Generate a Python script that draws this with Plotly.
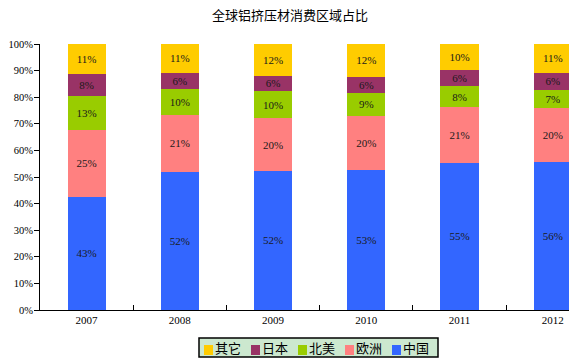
import plotly.graph_objects as go

years = ["2007", "2008", "2009", "2010", "2011", "2012"]
china = [42.6, 52.0, 52.4, 52.8, 55.4, 55.8]
europe = [25.1, 21.3, 19.6, 20.2, 20.9, 20.3]
north_america = [12.8, 9.8, 10.3, 8.7, 7.9, 6.7]
japan = [8.3, 6.1, 5.8, 6.0, 6.1, 6.4]
other = [11.2, 10.8, 11.9, 12.3, 9.7, 10.8]

series = [
    ("中国", china, "#3366FF"),
    ("欧洲", europe, "#FF8080"),
    ("北美", north_america, "#99CC00"),
    ("日本", japan, "#993366"),
    ("其它", other, "#FFCC00"),
]

FONT = "Liberation Serif, Noto Sans CJK SC, serif"
OFF = 8  # page body margin offset
W, H = 577 - OFF, 360 - OFF
ML, MR, MT = 40 - OFF, 0, 44 - OFF
MB = H - (310 - OFF)
PW, PH = W - ML - MR, H - MT - MB


def px_x(x):
    return (x - OFF - ML) / PW


def px_y(y):
    return (H - MB - (y - OFF)) / PH


fig = go.Figure()
for name, vals, color in series:
    fig.add_trace(go.Bar(
        x=years, y=vals, name=name,
        marker=dict(color=color, line=dict(width=0)),
        width=0.41,
        texttemplate="%{y:.0f}%",
        textposition="inside",
        insidetextanchor="middle",
        textfont=dict(family=FONT, size=11, color="#1a1a1a"),
        constraintext="none",
        hoverinfo="skip",
        showlegend=False,
    ))

# compact legend (reversed order, as in the reference)
shapes = [dict(type="rect", xref="paper", yref="paper",
               x0=px_x(199), x1=px_x(438), y0=px_y(357), y1=px_y(338),
               fillcolor="#CCE8CF", line=dict(color="black", width=1.5), layer="above")]
annotations = []
x = 204
for name, vals, color in reversed(series):
    shapes.append(dict(type="rect", xref="paper", yref="paper",
                       x0=px_x(x), x1=px_x(x + 9), y0=px_y(355), y1=px_y(345),
                       fillcolor=color, line=dict(width=0), layer="above"))
    annotations.append(dict(text=name, xref="paper", yref="paper",
                            x=px_x(x + 9), y=px_y(348), xanchor="left", yanchor="middle",
                            showarrow=False, font=dict(family=FONT, size=13, color="black")))
    x += 47

fig.update_layout(
    barmode="stack",
    width=W, height=H,
    margin=dict(l=ML, r=MR, t=MT, b=MB, autoexpand=False),
    paper_bgcolor="white",
    plot_bgcolor="white",
    font=dict(family=FONT, size=11, color="black"),
    title=dict(text="全球铝挤压材消费区域占比", x=(290 - OFF) / W, xanchor="center",
               y=1 - 7.5 / H, yanchor="middle",
               font=dict(family=FONT, size=13, color="black")),
    showlegend=False,
    shapes=shapes,
    annotations=annotations,
)

fig.update_xaxes(
    type="category",
    range=[-0.5, 5.26],
    showline=True, linecolor="black", linewidth=1,
    ticks="inside", tickson="boundaries", ticklen=5, tickcolor="black",
    showgrid=False, zeroline=False,
    tickfont=dict(family=FONT, size=11, color="black"),
)
fig.update_yaxes(
    range=[0, 100],
    dtick=10, tick0=0,
    ticksuffix="%",
    showline=True, linecolor="black", linewidth=1,
    ticks="outside", ticklen=5, tickcolor="black",
    ticklabelstandoff=-1,
    showgrid=False, zeroline=False,
    tickfont=dict(family=FONT, size=10.5, color="black"),
)

fig.write_html("out.html")
